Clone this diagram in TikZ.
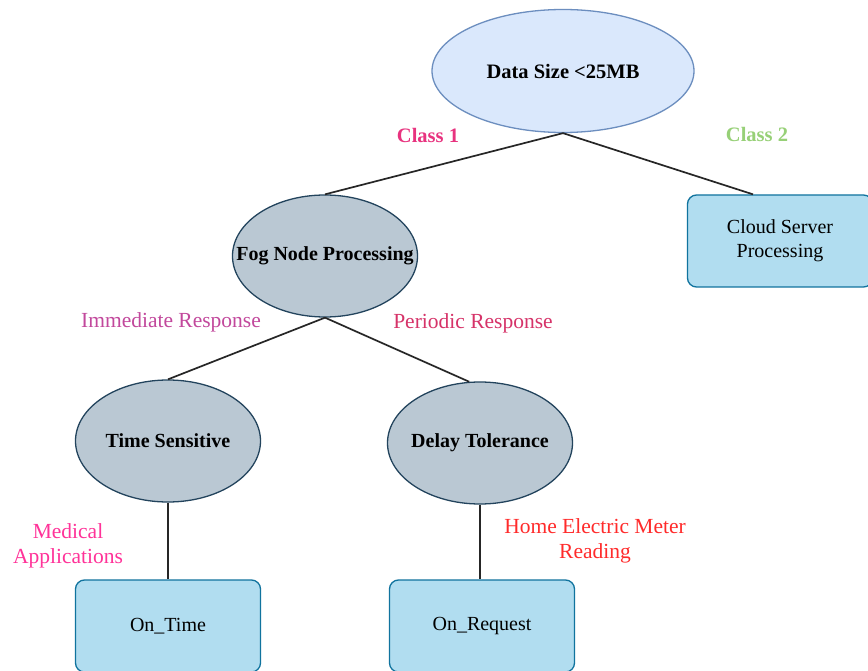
\documentclass[tikz,border=0pt]{standalone}
\usepackage{fontspec}
\setmainfont{Liberation Serif}
\usetikzlibrary{shapes.geometric,calc}
\definecolor{rootfill}{HTML}{DAE8FC}
\definecolor{rootdraw}{HTML}{6C8EBF}
\definecolor{fogfill}{HTML}{BAC8D3}
\definecolor{fogdraw}{HTML}{23445D}
\definecolor{boxfill}{HTML}{B1DDF0}
\definecolor{boxdraw}{HTML}{10739E}
\definecolor{cOne}{HTML}{E8337F}
\definecolor{cTwo}{HTML}{97D077}
\definecolor{cImm}{HTML}{C2489C}
\definecolor{cPer}{HTML}{D63369}
\definecolor{cMed}{HTML}{FF3399}
\definecolor{cHome}{HTML}{FF2B2B}
\newcommand{\zw}[1]{\makebox[0pt]{#1}}
\tikzset{
  rootnode/.style={ellipse, draw=rootdraw, fill=rootfill, line width=1.3pt, minimum width=262pt, minimum height=123pt, inner sep=0pt, font=\fontsize{20.5}{24}\selectfont\bfseries},
  fognode/.style={ellipse, draw=fogdraw, fill=fogfill, line width=1.3pt, minimum width=185pt, minimum height=122pt, inner sep=0pt, font=\fontsize{20}{24}\selectfont\bfseries},
  boxnode/.style={rectangle, rounded corners=9pt, draw=boxdraw, fill=boxfill, line width=1.3pt, minimum width=185pt, minimum height=92pt, inner sep=0pt, align=center, font=\fontsize{20}{24}\selectfont},
  edge/.style={draw=black!85, line width=1.7pt},
  lbl/.style={inner sep=0pt, align=center, font=\fontsize{21.5}{25}\selectfont},
  blbl/.style={inner sep=0pt, font=\fontsize{20.5}{24}\selectfont\bfseries}
}
\begin{document}
\begin{tikzpicture}[x=1pt,y=-1pt]
\useasboundingbox[fill=white] (0,0) rectangle (868,671);
\node[rootnode] (root) at (563,71) {\zw{Data Size <25MB}};
\node[fognode] (fog) at (325,256) {\zw{Fog Node Processing}};
\node[boxnode] (cloud) at (780,241) {Cloud Server\\Processing};
\node[fognode] (time) at (168,441) {\zw{Time Sensitive}};
\node[fognode] (delay) at (480,443) {\zw{Delay Tolerance}};
\node[boxnode] (ontime) at (168,626) {On\_Time};
\node[boxnode] (onreq) at (482,626) {On\_Request};
\coordinate (cloudtop) at ($(cloud.north)+(-27,0)$);
\path[edge] (root.south) -- (fog.north);
\path[edge] (root.south) -- (cloudtop);
\path[edge] (fog.south) -- (time.north);
\path[edge] (fog.south) -- (delay.100);
\path[edge] (time.south) -- (time.south |- ontime.north);
\path[edge] (delay.south) -- (delay.south |- onreq.north);
\node[blbl, text=cOne] (l1) at (428,135) {Class 1};
\node[blbl, text=cTwo] (l2) at (757,134) {Class 2};
\node[lbl, text=cImm] (l3) at (171,322) {Immediate Response};
\node[lbl, text=cPer] (l4) at (473,323) {Periodic Response};
\node[lbl, text=cMed] (l5) at (68,546) {Medical\\Applications};
\node[lbl, text=cHome] (l6) at (595,541) {Home Electric Meter\\Reading};
\end{tikzpicture}
\end{document}
